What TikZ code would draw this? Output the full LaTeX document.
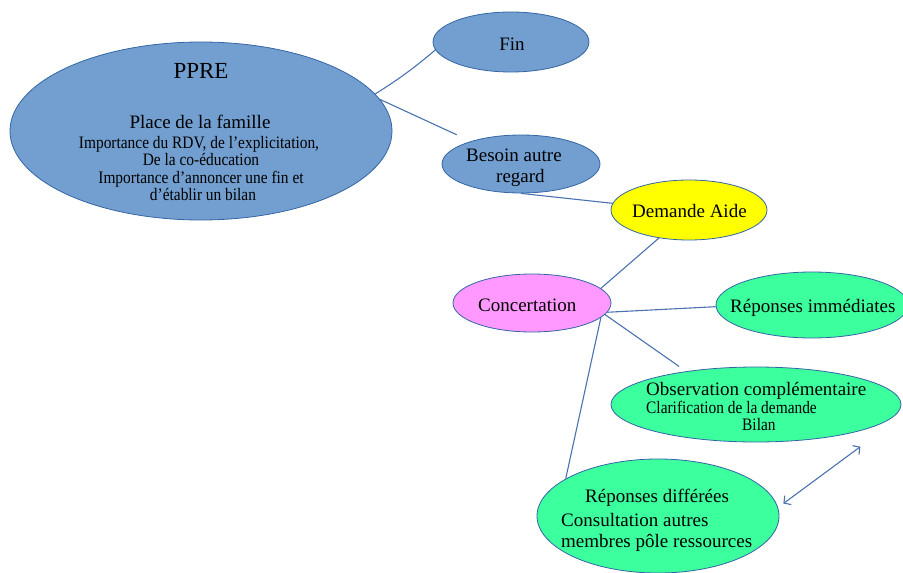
\documentclass[tikz,border=0pt]{standalone}
\usepackage{fontspec}
\setmainfont{Liberation Serif}
\newfontfamily\condfont[FakeStretch=0.88]{Liberation Serif}
\usetikzlibrary{shapes.geometric,arrows.meta}
\definecolor{bluefill}{HTML}{729FCF}
\definecolor{edgeblue}{HTML}{3465A4}
\definecolor{linkblue}{HTML}{4A72B0}
\definecolor{pinkfill}{HTML}{FF99FF}
\definecolor{greenfill}{HTML}{3CFF9E}
\definecolor{yellowfill}{HTML}{FFFF00}
\begin{document}
\begin{tikzpicture}[x=1pt,y=-1pt,
  oval/.style={ellipse, draw=edgeblue, line width=0.8pt, inner sep=0pt},
  link/.style={draw=linkblue, line width=1.1pt},
  bigtext/.style={font=\fontsize{19}{23}\selectfont, inner sep=0pt, text=black},
  titletext/.style={font=\fontsize{23}{27}\selectfont, inner sep=0pt, text=black},
  smalltext/.style={font=\condfont\fontsize{17.5}{21}\selectfont, inner sep=0pt, text=black},
]
\useasboundingbox (0,0) rectangle (903,573);

% ellipses
\node[oval, fill=bluefill, minimum width=382pt, minimum height=178pt] (ppre) at (201,131) {};
\node[oval, fill=bluefill, minimum width=156pt, minimum height=60pt] (fin) at (511,42) {};
\node[oval, fill=bluefill, minimum width=158pt, minimum height=58pt] (besoin) at (521,164) {};
\node[oval, fill=yellowfill, minimum width=156pt, minimum height=60pt] (demande) at (689,210) {};
\node[oval, fill=pinkfill, minimum width=158pt, minimum height=58pt] (concert) at (532,303) {};
\node[oval, fill=greenfill, minimum width=192pt, minimum height=66pt] (rimm) at (812,305) {};
\node[oval, fill=greenfill, minimum width=290pt, minimum height=75pt] (obs) at (756,404.5) {};
\node[oval, fill=greenfill, minimum width=242pt, minimum height=114pt] (rdiff) at (658,516) {};

% texts
\node[titletext, anchor=base] (tppre) at (201,78) {PPRE};
\node[bigtext, anchor=base] (tplace) at (200,128) {Place de la famille};
\node[smalltext, anchor=base] (tl1) at (199,148) {Importance du RDV, de l’explicitation,};
\node[smalltext, anchor=base] (tl2) at (201,165) {De la co-éducation};
\node[smalltext, anchor=base] (tl3) at (201,183) {Importance d’annoncer une fin et};
\node[smalltext, anchor=base] (tl4) at (203,200) {d’établir un bilan};

\node[bigtext, anchor=base] (tfin) at (512,50) {Fin};
\node[bigtext, anchor=base west] (tbes1) at (466,161) {Besoin autre};
\node[bigtext, anchor=base west] (tbes2) at (496,182) {regard};
\node[bigtext, anchor=base west] (tdem) at (632,217) {Demande Aide};
\node[bigtext, anchor=base west] (tcon) at (478,311) {Concertation};
\node[bigtext, anchor=base west] (trimm) at (730,312) {Réponses immédiates};

\node[bigtext, anchor=base west] (tobs1) at (646,395) {Observation complémentaire};
\node[smalltext, anchor=base west] (tobs2) at (646,413) {Clarification de la demande};
\node[smalltext, anchor=base west] (tobs3) at (742,430) {Bilan};

\node[bigtext, anchor=base west] (trd1) at (585,502) {Réponses différées};
\node[bigtext, anchor=base west] (trd2) at (561,526) {Consultation autres};
\node[bigtext, anchor=base west] (trd3) at (561,547) {membres pôle ressources};

% connectors
\draw[link] (ppre.12) to[bend right=4] (fin.186);
\draw[link] (ppre.10) -- ([yshift=12pt]besoin.165);
\draw[link] (besoin.270) -- (demande.175);
\draw[link] (demande.223) -- (concert.12);
\draw[link] (concert.353) -- (rimm.181);
\draw[link] (concert.351) -- ([shift={(-6pt,5pt)}]obs.155);
\draw[link] (concert.348) -- (rdiff.158);
\draw[link, {Straight Barb[length=5pt,width=11pt]}-{Straight Barb[length=5pt,width=11pt]}]
  ([shift={(6pt,2pt)}]rdiff.5) -- ([shift={(3pt,-15pt)}]obs.345);
\end{tikzpicture}
\end{document}
